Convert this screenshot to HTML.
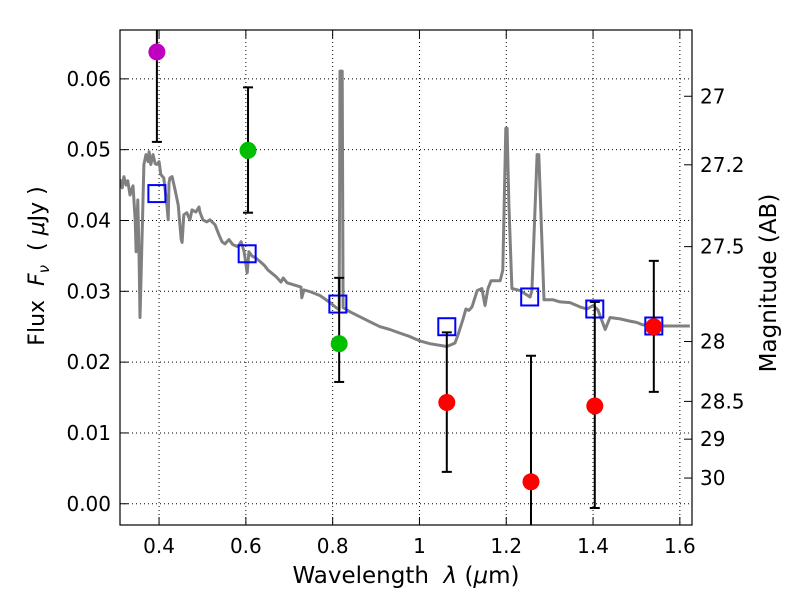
<!DOCTYPE html>
<html><head><meta charset="utf-8"><style>
body{margin:0;background:#fff;}
svg text{font-family:"DejaVu Sans","Liberation Sans",sans-serif;fill:#000;}
</style></head><body>
<svg id="chart" width="800" height="600" viewBox="0 0 800 600" xmlns="http://www.w3.org/2000/svg">
<defs><clipPath id="pc"><rect x="120" y="30" width="572" height="495"/></clipPath></defs>
<rect x="0" y="0" width="800" height="600" fill="#fff"/>
<g id="grid"></g>
<g id="plot" clip-path="url(#pc)"></g>
<rect x="120" y="30" width="572" height="495" fill="none" stroke="#000" stroke-width="1.2"/>
<g id="axes"></g>
<text x="406" y="583" font-size="23" text-anchor="middle" xml:space="preserve">Wavelength  <tspan font-style="italic">λ</tspan> (<tspan font-style="italic">μ</tspan>m)</text>
<text transform="translate(44,266) rotate(-90)" font-size="22" text-anchor="middle" xml:space="preserve">Flux  <tspan font-style="italic">F</tspan><tspan font-style="italic" font-size="15" dy="5">ν</tspan><tspan dy="-5">  ( </tspan><tspan font-style="italic">μ</tspan>Jy )</text>
<text transform="translate(776,283) rotate(-90)" font-size="23" text-anchor="middle">Magnitude (AB)</text>
</svg>
<script>
const specLam = [.310,.315,.319,.324,.328,.333,.340,.345,.347,.351,.354,.356,.358,.363,.365,.370,.375,.377,.381,.386,.391,.395,.400,.404,.411,.418,.421,.423,.425,.430,.437,.444,.451,.453,.457,.464,.471,.476,.485,.492,.494,.501,.510,.517,.529,.538,.545,.552,.561,.570,.582,.589,.596,.603,.607,.614,.623,.633,.642,.651,.669,.681,.686,.695,.727,.729,.734,.750,.771,.794,.808,.815,.817,.822,.824,.840,.863,.886,.909,.932,.955,.978,1.001,1.024,1.063,1.075,1.082,1.089,1.100,1.107,1.114,1.121,1.133,1.144,1.151,1.158,1.165,1.174,1.186,1.192,1.199,1.202,1.206,1.213,1.232,1.255,1.259,1.271,1.275,1.287,1.308,1.324,1.347,1.370,1.386,1.400,1.411,1.428,1.439,1.462,1.485,1.501,1.513,1.531,1.554,1.582,1.623];
const specFlux = [.0458,.0446,.0462,.0450,.0456,.0436,.0449,.0401,.0356,.0429,.0347,.0263,.0306,.0429,.0479,.0493,.0483,.0497,.0479,.0493,.0480,.0479,.0483,.0465,.0460,.0422,.0401,.0453,.0460,.0462,.0443,.0422,.0373,.0369,.0408,.0411,.0401,.0415,.0412,.0419,.0412,.0401,.0398,.0401,.0394,.0380,.0370,.0367,.0373,.0366,.0363,.0370,.0356,.0326,.0356,.0350,.0347,.0342,.0337,.0330,.0321,.0313,.0319,.0312,.0306,.0291,.0302,.0299,.0294,.0284,.0277,.0274,.0611,.0611,.0277,.0271,.0264,.0257,.0250,.0246,.0241,.0236,.0230,.0226,.0222,.0225,.0227,.0239,.0260,.0275,.0273,.0278,.0301,.0304,.0280,.0304,.0315,.0315,.0315,.0330,.0530,.0530,.0422,.0304,.0301,.0292,.0301,.0493,.0493,.0288,.0288,.0285,.0284,.0278,.0275,.0280,.0274,.0246,.0263,.0261,.0258,.0256,.0253,.0251,.0251,.0251,.0251];
const modelLam = [0.395,0.603,0.812,1.063,1.254,1.404,1.540];
const modelFlux = [0.0438,0.0353,0.0282,0.0250,0.0292,0.0275,0.0251];
const obsLam = [0.395,0.605,0.815,1.063,1.257,1.404,1.540];
const obsFlux = [0.0638,0.0499,0.0226,0.0143,0.0031,0.0138,0.0250];
const obsLo = [0.0511,0.0411,0.0172,0.0045,-0.0160,-0.0006,0.0158];
const obsHi = [0.0765,0.0588,0.0319,0.0242,0.0209,0.0285,0.0343];
const obsColor = ["#bf00bf","#00bf00","#00bf00","#ff0000","#ff0000","#ff0000","#ff0000"];
const xTicks = [0.4,0.6,0.8,1.0,1.2,1.4,1.6];
const xTickLabels = ["0.4","0.6","0.8","1","1.2","1.4","1.6"];
const yTicks = [0,0.01,0.02,0.03,0.04,0.05,0.06];
const yTickLabels = ["0.00","0.01","0.02","0.03","0.04","0.05","0.06"];
const magTicks = [27,27.2,27.5,28,28.5,29,30];
const magTickLabels = ["27","27.2","27.5","28","28.5","29","30"];

const NS="http://www.w3.org/2000/svg";
const X0=120,X1=692,Y0=30,Y1=525, LMIN=0.31,LMAX=1.628, FMIN=-0.003,FMAX=0.0669;
function sx(l){return X0+(l-LMIN)/(LMAX-LMIN)*(X1-X0);}
function sy(f){return Y1-(f-FMIN)/(FMAX-FMIN)*(Y1-Y0);}
function magToFlux(m){return Math.pow(10,(23.9-m)/2.5);}
function mk(tag,attrs,parent){const e=document.createElementNS(NS,tag);for(const k in attrs)e.setAttribute(k,attrs[k]);parent.appendChild(e);return e;}
const grid=document.getElementById('grid'),plot=document.getElementById('plot'),axes=document.getElementById('axes');

xTicks.forEach((t,i)=>{
  const x=sx(t);
  const g=mk('line',{x1:x,x2:x,y1:Y0,y2:Y1,stroke:'#000','stroke-width':1,'stroke-dasharray':'1,3'},grid);
  
  
  const a=mk('line',{x1:x,x2:x,y1:Y1,y2:Y1-8,stroke:'#000','stroke-width':1},axes);
  
  
  const b=mk('line',{x1:x,x2:x,y1:Y0,y2:Y0+8,stroke:'#000','stroke-width':1},axes);
  
  
  const tx=mk('text',{x:x,y:Y1+28,'font-size':20,'text-anchor':'middle'},axes);
  tx.textContent=xTickLabels[i];
  
  
});
yTicks.forEach((t,i)=>{
  const y=sy(t);
  const g=mk('line',{x1:X0,x2:X1,y1:y,y2:y,stroke:'#000','stroke-width':1,'stroke-dasharray':'1,3'},grid);
  
  
  const a=mk('line',{x1:X0,x2:X0+8,y1:y,y2:y,stroke:'#000','stroke-width':1},axes);
  
  
  const tx=mk('text',{x:X0-9,y:y+7,'font-size':20,'text-anchor':'end'},axes);
  tx.textContent=yTickLabels[i];
  
  
});
magTicks.forEach((m,i)=>{
  const y=sy(magToFlux(m));
  const a=mk('line',{x1:X1,x2:X1-8,y1:y,y2:y,stroke:'#000','stroke-width':1},axes);
  
  
  const tx=mk('text',{x:X1+8,y:y+7,'font-size':20,'text-anchor':'start'},axes);
  tx.textContent=magTickLabels[i];
  
  
});

const pts=specLam.map((l,i)=>sx(l).toFixed(1)+','+sy(specFlux[i]).toFixed(1)).join(' ');
const sp=mk('polyline',{points:pts,fill:'none',stroke:'#808080','stroke-width':3,'stroke-linejoin':'round'},plot);



modelLam.forEach((l,i)=>{
  const x=sx(l),y=sy(modelFlux[i]);
  const r=mk('rect',{x:x-8.5,y:y-8.5,width:17,height:17,fill:'none',stroke:'#0000ff','stroke-width':2},plot);
  
  
});
obsLam.forEach((l,i)=>{
  const x=sx(l),yl=sy(obsLo[i]),yh=sy(obsHi[i]);
  const e=mk('line',{x1:x,x2:x,y1:yl,y2:yh,stroke:'#000','stroke-width':2},plot);
  
  
  [yl,yh].forEach(yy=>{
    const c=mk('line',{x1:x-5,x2:x+5,y1:yy,y2:yy,stroke:'#000','stroke-width':2},plot);
    
    
  });
  const p=mk('circle',{cx:x,cy:sy(obsFlux[i]),r:8.5,fill:obsColor[i]},plot);
  
  
});
</script>
</body></html>
